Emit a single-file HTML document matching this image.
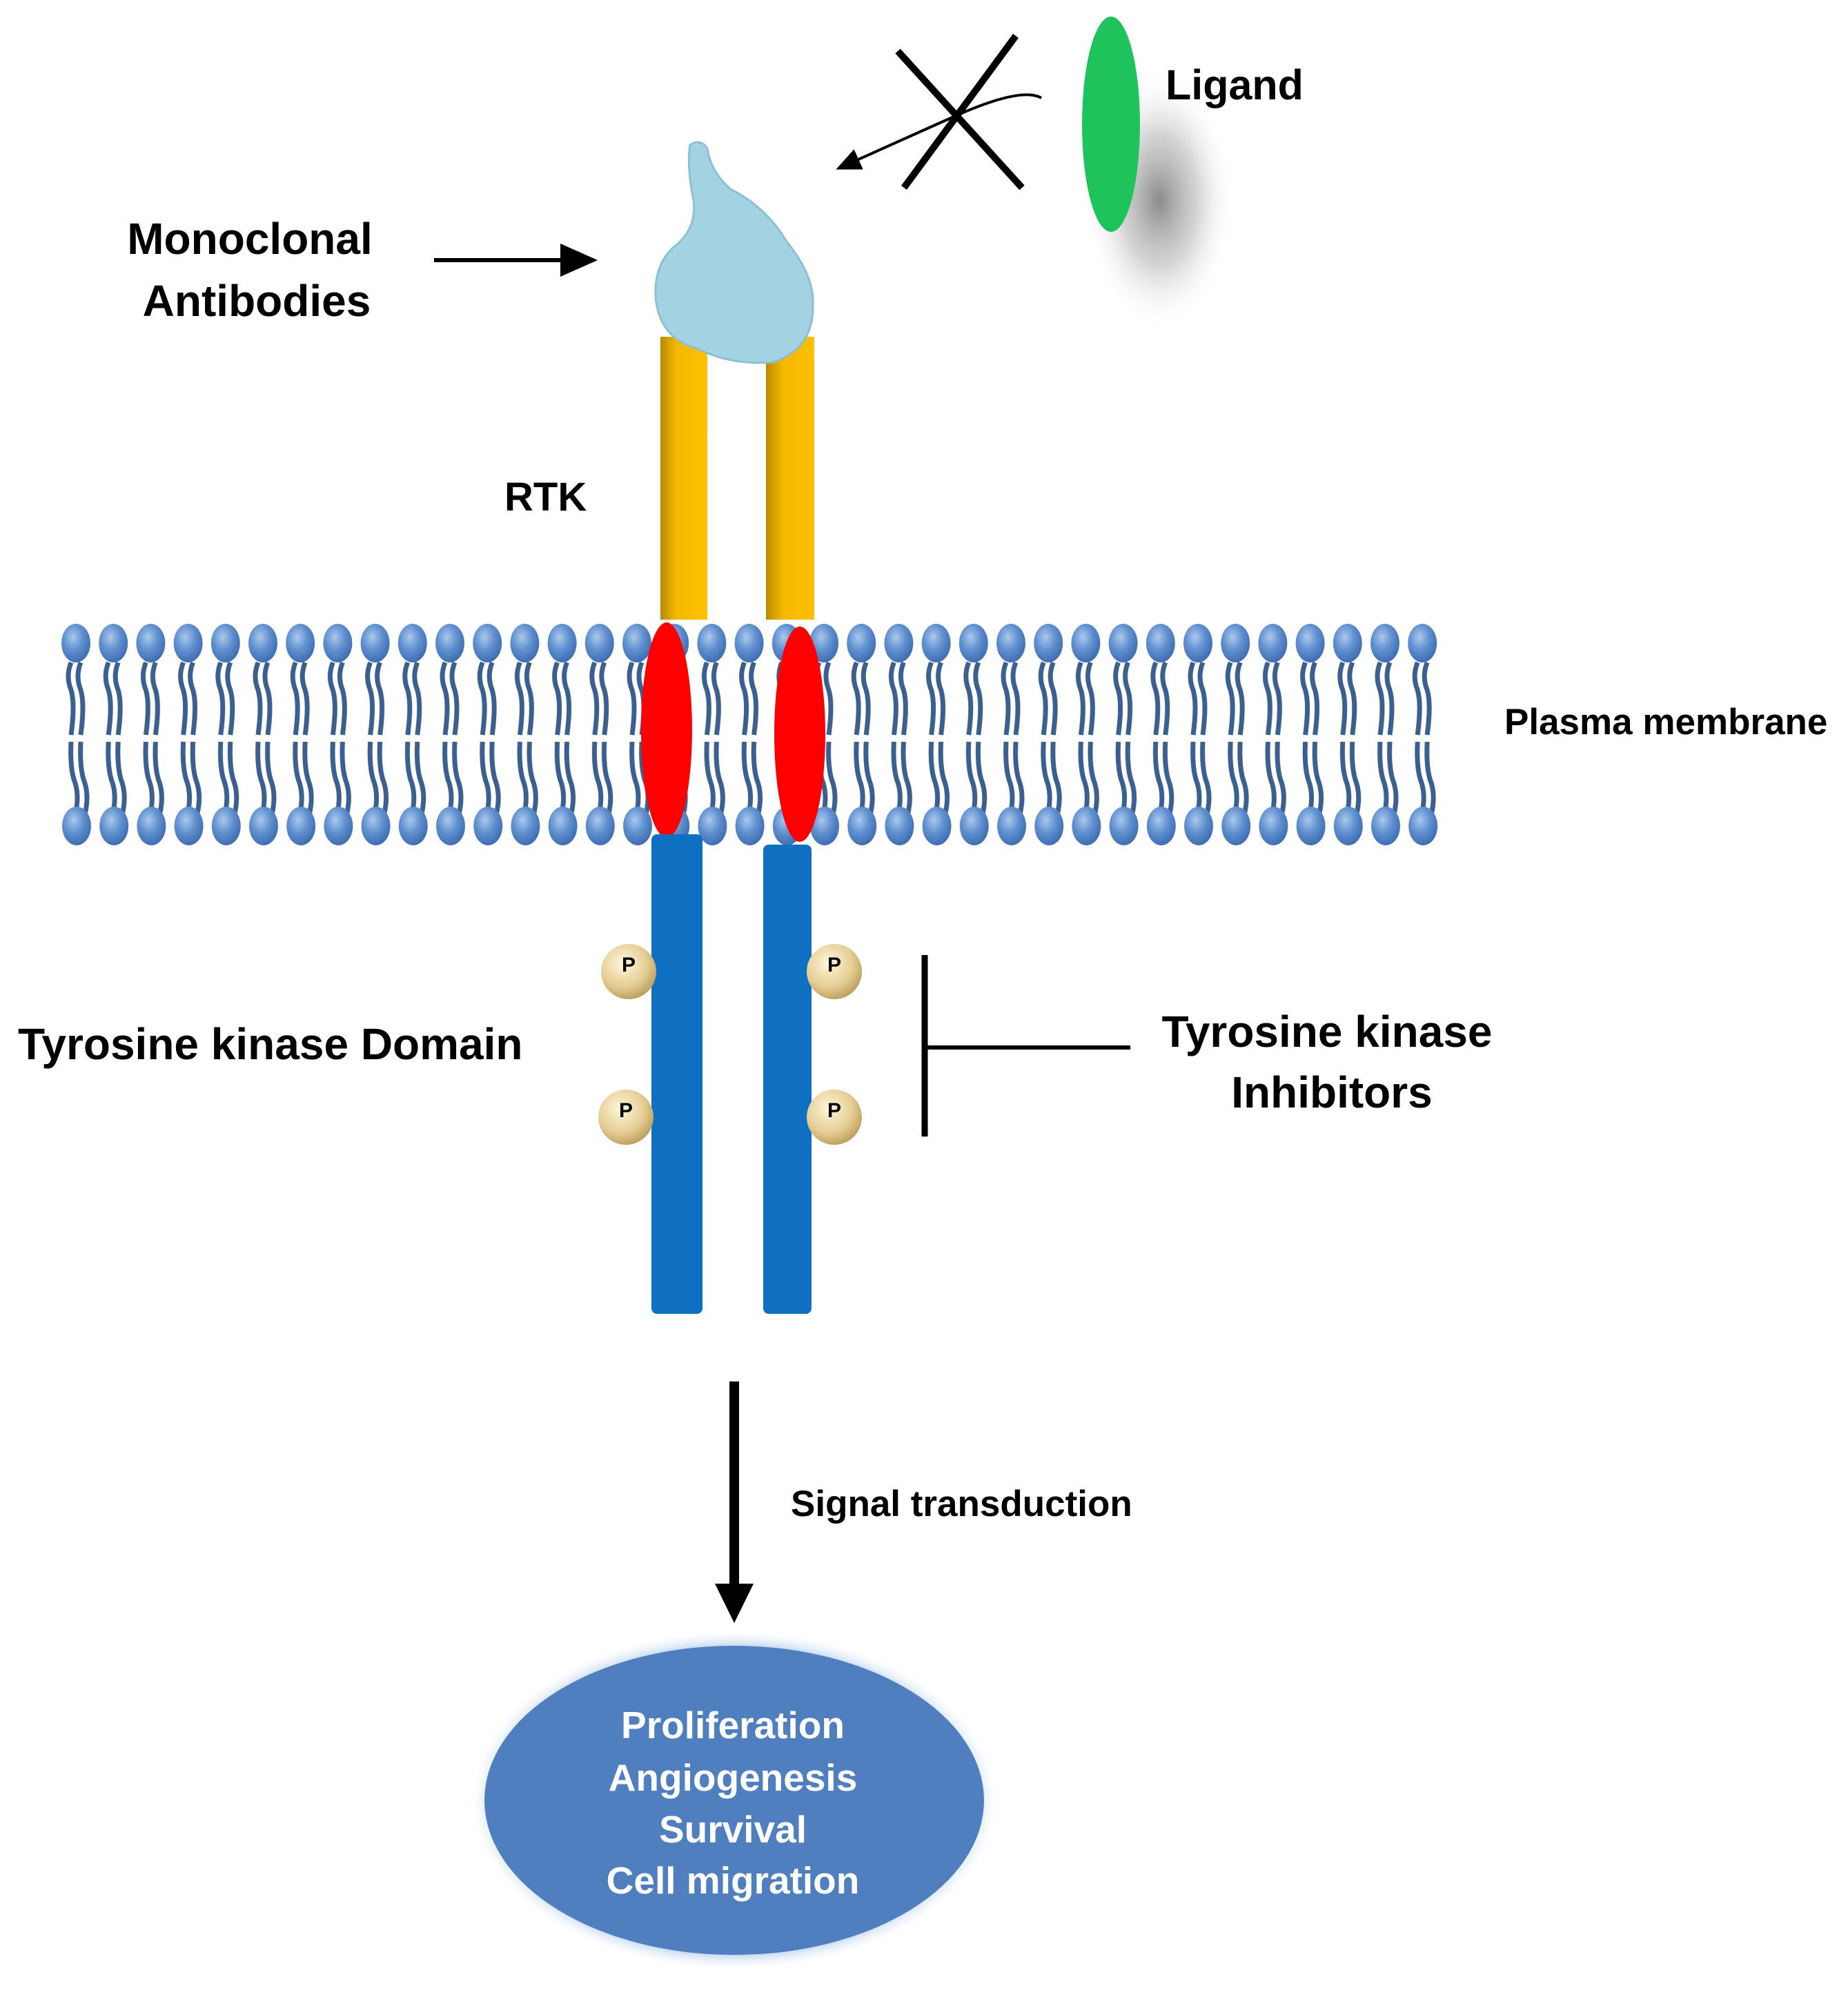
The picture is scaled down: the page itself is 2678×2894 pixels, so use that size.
<!DOCTYPE html>
<html><head><meta charset="utf-8"><style>
html,body{margin:0;padding:0;background:#fff;}
svg{display:block}
text{font-family:"Liberation Sans",sans-serif;font-weight:bold;}
</style></head><body>
<svg width="2678" height="2894" viewBox="0 0 2678 2894" xmlns="http://www.w3.org/2000/svg">
<defs>
<radialGradient id="head" cx="0.4" cy="0.35" r="0.7">
<stop offset="0" stop-color="#a9c8ec"/><stop offset="0.5" stop-color="#5f8fcf"/><stop offset="1" stop-color="#3a6aae"/>
</radialGradient>
<linearGradient id="gold" x1="0" x2="1"><stop offset="0" stop-color="#b98a00"/><stop offset="0.35" stop-color="#f5b800"/><stop offset="1" stop-color="#ffc000"/></linearGradient>
<radialGradient id="pball" cx="0.4" cy="0.35" r="0.7"><stop offset="0" stop-color="#fff6dc"/><stop offset="0.6" stop-color="#e6cf95"/><stop offset="1" stop-color="#b89a58"/></radialGradient>
<radialGradient id="glow" cx="0.5" cy="0.5" r="0.5"><stop offset="0.85" stop-color="#7aa8dd"/><stop offset="1" stop-color="#ffffff" stop-opacity="0"/></radialGradient>
<radialGradient id="shadow" cx="0.5" cy="0.5" r="0.5"><stop offset="0" stop-color="#777" stop-opacity="0.85"/><stop offset="0.5" stop-color="#aaa" stop-opacity="0.5"/><stop offset="1" stop-color="#fff" stop-opacity="0"/></radialGradient>
<pattern id="topP" x="83" y="900" width="54.2" height="180" patternUnits="userSpaceOnUse">
<ellipse cx="27" cy="32" rx="21" ry="28" fill="url(#head)"/>
<path d="M20 60 q-8 20 0 40 q6 20 0 65" stroke="#3b5f8f" stroke-width="7" fill="none"/>
<path d="M34 60 q-8 20 0 40 q6 20 0 65" stroke="#3b5f8f" stroke-width="7" fill="none"/>
</pattern>
<pattern id="botP" x="83" y="1070" width="54.2" height="170" patternUnits="userSpaceOnUse">
<path d="M20 5 q-2 40 6 60 q6 20 0 45" stroke="#3b5f8f" stroke-width="7" fill="none"/>
<path d="M34 5 q-2 40 6 60 q6 20 0 45" stroke="#3b5f8f" stroke-width="7" fill="none"/>
<ellipse cx="28" cy="127" rx="21" ry="28" fill="url(#head)"/>
</pattern>
<marker id="ah" markerWidth="10" markerHeight="10" refX="8" refY="5" orient="auto" markerUnits="strokeWidth"><path d="M0 1 L9 5 L0 9 Z" fill="#000"/></marker>
</defs>

<!-- membrane -->
<rect x="83" y="900" width="2005" height="172" fill="url(#topP)"/>
<rect x="83" y="1070" width="2005" height="170" fill="url(#botP)"/>

<!-- yellow bars -->
<rect x="957" y="488" width="68" height="410" fill="url(#gold)"/>
<rect x="1110" y="488" width="70" height="410" fill="url(#gold)"/>

<!-- antibody blob -->
<path d="M1000 210 Q1015 200 1025 215 Q1030 250 1060 275 Q1110 300 1140 350 Q1180 400 1178 440 Q1180 505 1120 525 Q1060 530 1010 505 Q955 490 950 430 Q948 380 980 355 Q1010 330 1005 290 Q995 240 1000 210 Z" fill="#a3d2e3" stroke="#8cc0d4" stroke-width="3"/>

<!-- red ellipses -->
<ellipse cx="966" cy="1058" rx="37" ry="156" fill="#ff0000"/>
<ellipse cx="1159" cy="1064" rx="37" ry="156" fill="#ff0000"/>

<!-- blue bars -->
<rect x="944" y="1209" width="74" height="695" rx="8" fill="#0f6fc0"/>
<rect x="1106" y="1224" width="70" height="680" rx="8" fill="#0f6fc0"/>

<!-- P balls -->
<g font-size="30" text-anchor="middle">
<circle cx="911" cy="1408" r="40" fill="url(#pball)"/><text x="911" y="1408">P</text>
<circle cx="1209" cy="1408" r="40" fill="url(#pball)"/><text x="1209" y="1408">P</text>
<circle cx="907" cy="1619" r="40" fill="url(#pball)"/><text x="907" y="1619">P</text>
<circle cx="1209" cy="1619" r="40" fill="url(#pball)"/><text x="1209" y="1619">P</text>
</g>

<!-- ligand -->
<ellipse cx="1680" cy="290" rx="110" ry="190" fill="url(#shadow)"/>
<ellipse cx="1610" cy="180" rx="42" ry="156" fill="#1fc35c"/>
<!-- X and curved arrow -->
<line x1="1301" y1="74" x2="1481" y2="272" stroke="#000" stroke-width="10"/>
<line x1="1310" y1="272" x2="1472" y2="52" stroke="#000" stroke-width="10"/>
<path d="M1509 142 Q1480 125 1380 170 L1215 244" stroke="#000" stroke-width="4" fill="none" marker-end="url(#ah)"/>

<!-- monoclonal arrow -->
<line x1="629" y1="377" x2="860" y2="377" stroke="#000" stroke-width="6" marker-end="url(#ah)"/>

<!-- inhibitor T -->
<line x1="1340" y1="1384" x2="1340" y2="1647" stroke="#000" stroke-width="9"/>
<line x1="1340" y1="1518" x2="1638" y2="1518" stroke="#000" stroke-width="6"/>

<!-- signal arrow -->
<line x1="1064" y1="2002" x2="1064" y2="2300" stroke="#000" stroke-width="14"/>
<path d="M1036 2295 L1092 2295 L1064 2352 Z" fill="#000"/>

<!-- outcome ellipse -->
<ellipse cx="1064" cy="2609" rx="385" ry="248" fill="url(#glow)"/>
<ellipse cx="1064" cy="2609" rx="362" ry="224" fill="#4f7fbf"/>

<g fill="#000">
<text x="362" y="368" font-size="64" text-anchor="middle">Monoclonal</text>
<text x="372" y="458" font-size="64" text-anchor="middle">Antibodies</text>
<text x="731" y="740" font-size="58">RTK</text>
<text x="1689" y="144" font-size="61">Ligand</text>
<text x="2180" y="1064" font-size="53">Plasma membrane</text>
<text x="26" y="1535" font-size="64">Tyrosine kinase Domain</text>
<text x="1923" y="1517" font-size="64" text-anchor="middle">Tyrosine kinase</text>
<text x="1930" y="1605" font-size="64" text-anchor="middle">Inhibitors</text>
<text x="1146" y="2197" font-size="53">Signal transduction</text>
</g>
<g fill="#fff" font-size="55" text-anchor="middle">
<text x="1062" y="2519">Proliferation</text>
<text x="1062" y="2595">Angiogenesis</text>
<text x="1062" y="2670">Survival</text>
<text x="1062" y="2744">Cell migration</text>
</g>
</svg>
</body></html>
